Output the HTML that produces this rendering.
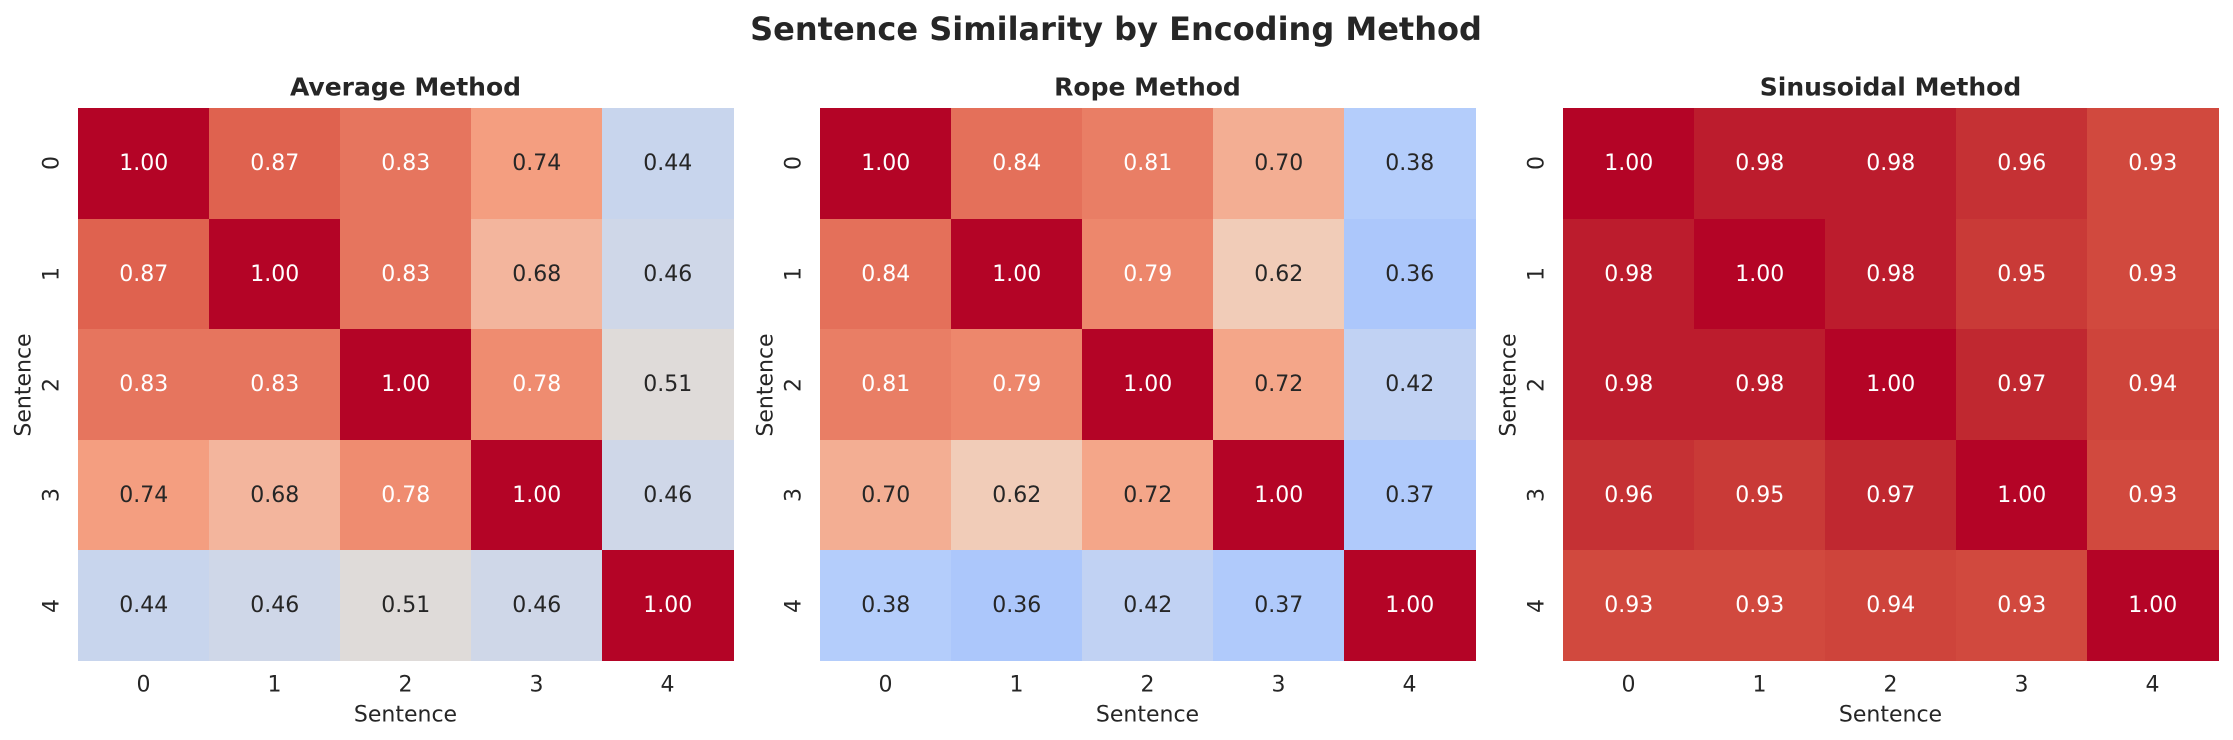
<!DOCTYPE html>
<html><head><meta charset="utf-8">
<style>
body{margin:0;background:#fff;}
#c{position:relative;width:2233px;height:740px;overflow:hidden;background:#fff;font-family:"DejaVu Sans","Liberation Sans",sans-serif;color:#262626;}
.a{position:absolute;white-space:nowrap;}
.cell{position:absolute;display:flex;align-items:center;justify-content:center;font-size:22px;}
.tk{position:absolute;font-size:22px;transform:translate(-50%,-50%);white-space:nowrap;}
.rot{transform:translate(-50%,-50%) rotate(-90deg);}
</style></head><body>
<div id="c">
<div class="a" style="left:1116px;top:29px;transform:translate(-50%,-50%);font-size:32px;font-weight:bold;">Sentence Similarity by Encoding Method</div>
</div>
<script>
(function(){
var stops=[[0,[59,76,192]],[0.125,[92,123,229]],[0.25,[130,165,251]],[0.375,[178,204,251]],[0.4,[186,208,249]],[0.5,[221,220,220]],[0.625,[242,203,183]],[0.75,[244,154,123]],[0.875,[222,96,77]],[0.9375,[207,70,60]],[0.97,[192,40,48]],[1,[180,4,38]]];
function cw(v){for(var i=0;i<stops.length-1;i++){var a=stops[i],b=stops[i+1];if(v<=b[0]){var t=(v-a[0])/(b[0]-a[0]);return 'rgb('+a[1].map(function(x,k){return Math.round(x+(b[1][k]-x)*t)}).join(',')+')';}}return 'rgb(180,4,38)';}
var data=[
["Average Method",78,[[1,.87,.83,.74,.44],[.87,1,.83,.68,.46],[.83,.83,1,.78,.51],[.74,.68,.78,1,.46],[.44,.46,.51,.46,1]]],
["Rope Method",820,[[1,.84,.81,.70,.38],[.84,1,.79,.62,.36],[.81,.79,1,.72,.42],[.70,.62,.72,1,.37],[.38,.36,.42,.37,1]]],
["Sinusoidal Method",1563,[[1,.98,.98,.96,.93],[.98,1,.98,.95,.93],[.98,.98,1,.97,.94],[.96,.95,.97,1,.93],[.93,.93,.94,.93,1]]]];
var c=document.getElementById('c'),h='';
var T0=108,CW=131,RH=110.6;
data.forEach(function(d){
 var L=d[1];
 h+='<div class="a" style="left:'+(L+327.5)+'px;top:87px;transform:translate(-50%,-50%);font-size:25px;font-weight:bold;">'+d[0]+'</div>';
 for(var r=0;r<5;r++)for(var q=0;q<5;q++){
  var v=d[2][r][q];
  var col=(v>=0.75)?'#fff':'#262626';
  h+='<div class="cell" style="left:'+(L+q*CW)+'px;top:'+(T0+r*RH)+'px;width:'+(CW+0.5)+'px;height:'+(RH+0.5)+'px;background:'+cw(v)+';color:'+col+'">'+v.toFixed(2)+'</div>';
 }
 for(var i=0;i<5;i++){
  h+='<div class="tk" style="left:'+(L+CW*(i+0.5))+'px;top:685px;">'+i+'</div>';
  h+='<div class="tk rot" style="left:'+(L-26)+'px;top:'+(T0+RH*(i+0.5))+'px;">'+i+'</div>';
 }
 h+='<div class="tk" style="left:'+(L+327.5)+'px;top:715px;">Sentence</div>';
 h+='<div class="tk rot" style="left:'+(L-54)+'px;top:'+(T0+276.5)+'px;">Sentence</div>';
});
c.insertAdjacentHTML('beforeend',h);
})();
</script>
</body></html>
